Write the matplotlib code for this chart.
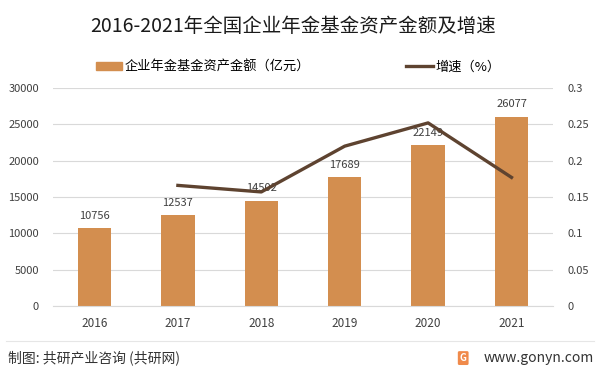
import matplotlib.pyplot as plt
from matplotlib.lines import Line2D
from matplotlib.patches import Patch

plt.rcParams['font.family'] = ['Noto Sans CJK SC', 'DejaVu Sans']

years = ['2016', '2017', '2018', '2019', '2020', '2021']
assets = [10756, 12537, 14502, 17689, 22149, 26077]
growth_years = ['2017', '2018', '2019', '2020', '2021']
growth = [0.166, 0.157, 0.220, 0.252, 0.177]

bar_color = '#D38E4F'
line_color = '#5E4330'
text_color = '#404040'

fig = plt.figure(figsize=(6, 3.73), dpi=100)
ax = fig.add_axes([0.088, 0.1796, 0.834, 0.5844])
ax2 = ax.twinx()

x = list(range(len(years)))
ax.bar(x, assets, width=0.4, color=bar_color, zorder=2)
for xi, v in zip(x, assets):
    ax.text(xi, v + 1000, str(v), ha='center', va='bottom', fontsize=8, color=text_color)

gx = [years.index(y) for y in growth_years]
ax2.plot(gx, growth, color=line_color, linewidth=2.4, zorder=3)

ax.set_xlim(-0.5, 5.5)
ax.set_ylim(0, 30000)
ax.set_yticks(range(0, 30001, 5000))
ax2.set_ylim(0, 0.3)
ax2.set_yticks([0, 0.05, 0.1, 0.15, 0.2, 0.25, 0.3])
ax2.set_yticklabels(['0', '0.05', '0.1', '0.15', '0.2', '0.25', '0.3'])
ax.set_xticks(x)
ax.set_xticklabels(years)

ax.grid(axis='y', color='#D9D9D9', linewidth=0.8, zorder=0)
ax.set_axisbelow(True)
for a in (ax, ax2):
    for s in a.spines.values():
        s.set_visible(False)
    a.tick_params(length=0, labelsize=8, colors=text_color)
ax.spines['bottom'].set_visible(True)
ax.spines['bottom'].set_color('#D9D9D9')
ax.tick_params(axis='y', pad=10)
ax.tick_params(axis='x', pad=8, labelsize=8.5)
ax2.tick_params(axis='y', pad=10)

fig.text(0.488, 0.928, '2016-2021年全国企业年金基金资产金额及增速', ha='center', va='center',
         fontsize=14, color='#1a1a1a')

handles = [Patch(color=bar_color), Line2D([0], [0], color=line_color, linewidth=2.4)]
fig.legend(handles[:1], ['企业年金基金资产金额（亿元）'], loc='center left',
           bbox_to_anchor=(0.16, 0.82), frameon=False, fontsize=9.5,
           handlelength=2.0, handleheight=0.55, handletextpad=0.2, borderpad=0, borderaxespad=0)
fig.legend(handles[1:], ['增速（%）'], loc='center left',
           bbox_to_anchor=(0.677, 0.82), frameon=False, fontsize=9.5,
           handlelength=2.05, handletextpad=0.15, borderpad=0, borderaxespad=0)

fig.add_artist(Line2D([0.01, 0.99], [0.086, 0.086], color='#E6E6E6', linewidth=0.8))
fig.text(0.013, 0.04, '制图: 共研产业咨询 (共研网)', ha='left', va='center', fontsize=10, color='#333333')
fig.text(0.99, 0.04, 'www.gonyn.com', ha='right', va='center', fontsize=10, color='#333333')
fig.text(0.772, 0.04, 'G', ha='center', va='center', fontsize=7, color='white', fontweight='bold',
         bbox=dict(boxstyle='round,pad=0.2,rounding_size=0.15', facecolor='#F08A4B', edgecolor='none'))

fig.savefig('out.png', dpi=100)
